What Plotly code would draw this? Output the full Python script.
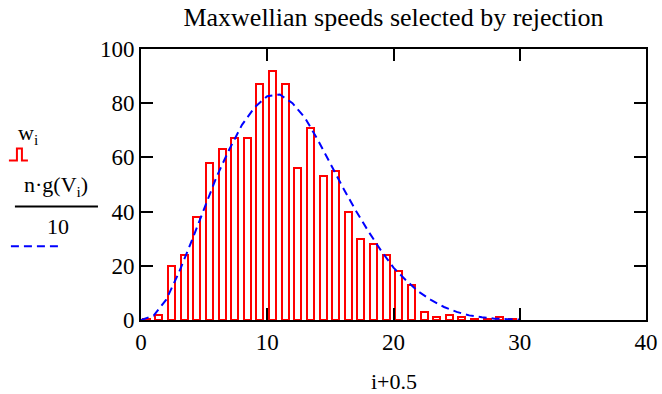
import plotly.graph_objects as go

# ---- data ----
bin_index = list(range(30))
bin_x = [i + 0.5 for i in bin_index]
counts = [0.3, 2, 20, 24, 38, 58, 63, 67, 67, 87, 92, 87, 56, 71, 53, 55, 40, 30,
          28, 24, 18, 13, 3, 1, 2, 1, 0.3, 0.3, 1, 0.3]

curve_x = list(range(31))
curve_y = [0, 1.6, 7.5, 17.5, 29, 41, 53, 63, 72, 78.5, 82.6, 83.2, 80, 74.5,
           66.5, 57.7, 48.8, 40.5, 32.8, 25.7, 19.3, 14.6, 10.4, 7.3, 4.8, 3.0,
           1.7, 1.0, 0.5, 0.3, 0.2]

x_ticks = [0, 10, 20, 30, 40]
y_ticks = [0, 20, 40, 60, 80, 100]

title_text = "Maxwellian speeds selected by rejection"
x_title = "i+0.5"

# ---- layout geometry (pixels) ----
W, H = 662, 394
L, R, T, B = 141, 645.7, 48.5, 319.7
PW, PH = R - L, B - T


def px(xp):
    return (xp - L) / PW


def py(yp):
    return (B - yp) / PH


FONT = "Liberation Serif, Times New Roman, serif"

fig = go.Figure()
fig.add_trace(go.Bar(
    x=bin_x, y=counts, width=0.56, offset=-0.36,
    marker=dict(color="rgba(0,0,0,0)", line=dict(color="#ff0000", width=2)),
    showlegend=False, cliponaxis=False,
))
fig.add_trace(go.Scatter(
    x=curve_x, y=curve_y, mode="lines",
    line=dict(color="#0000ff", width=2, dash="8px,5px"),
    showlegend=False,
))

axis_common = dict(
    showline=True, linecolor="black", linewidth=2, mirror="ticks",
    ticks="inside", ticklen=12, tickwidth=2, tickcolor="black",
    showgrid=False, zeroline=False, automargin=False,
    tickfont=dict(family=FONT, size=23, color="black"),
)

fig.update_layout(
    width=W, height=H,
    margin=dict(l=L, r=W - R, t=T, b=H - B, pad=0, autoexpand=False),
    paper_bgcolor="white", plot_bgcolor="white",
    bargap=0,
    title=dict(text=title_text, x=0.5, xref="paper", xanchor="center",
               y=1 - 17 / H, yref="container", yanchor="middle",
               font=dict(family=FONT, size=26, color="black")),
    xaxis=dict(range=[0, 40], tickvals=x_ticks, ticktext=[str(v) for v in x_ticks],
               **axis_common),
    yaxis=dict(range=[0, 100], tickvals=y_ticks, ticktext=[str(v) for v in y_ticks],
               **axis_common),
)

# x-axis title
fig.add_annotation(xref="paper", yref="paper", x=0.5, y=py(381),
                   text=x_title, showarrow=False,
                   font=dict(family=FONT, size=22, color="black"),
                   xanchor="center", yanchor="middle")

# ---- legend drawn at the left ----
ann_font = dict(family=FONT, size=22, color="black")
fig.add_annotation(xref="paper", yref="paper", x=px(28), y=py(134),
                   text="w<sub>i</sub>", showarrow=False, font=ann_font,
                   xanchor="center", yanchor="middle")
fig.add_shape(type="path", xref="paper", yref="paper",
              path=f"M {px(9)},{py(160)} L {px(17)},{py(160)} L {px(17)},{py(148)} "
                   f"L {px(22)},{py(148)} L {px(22)},{py(160)} L {px(28)},{py(160)}",
              line=dict(color="#ff0000", width=2))
fig.add_annotation(xref="paper", yref="paper", x=px(56), y=py(186),
                   text="n·g(V<sub>i</sub>)", showarrow=False, font=ann_font,
                   xanchor="center", yanchor="middle")
fig.add_shape(type="line", xref="paper", yref="paper",
              x0=px(15), x1=px(98), y0=py(206), y1=py(206),
              line=dict(color="black", width=2))
fig.add_annotation(xref="paper", yref="paper", x=px(58), y=py(226),
                   text="10", showarrow=False, font=ann_font,
                   xanchor="center", yanchor="middle")
fig.add_shape(type="line", xref="paper", yref="paper",
              x0=px(11), x1=px(62), y0=py(246), y1=py(246),
              line=dict(color="#0000ff", width=2, dash="8px,5px"))

fig.write_html("out.html")
